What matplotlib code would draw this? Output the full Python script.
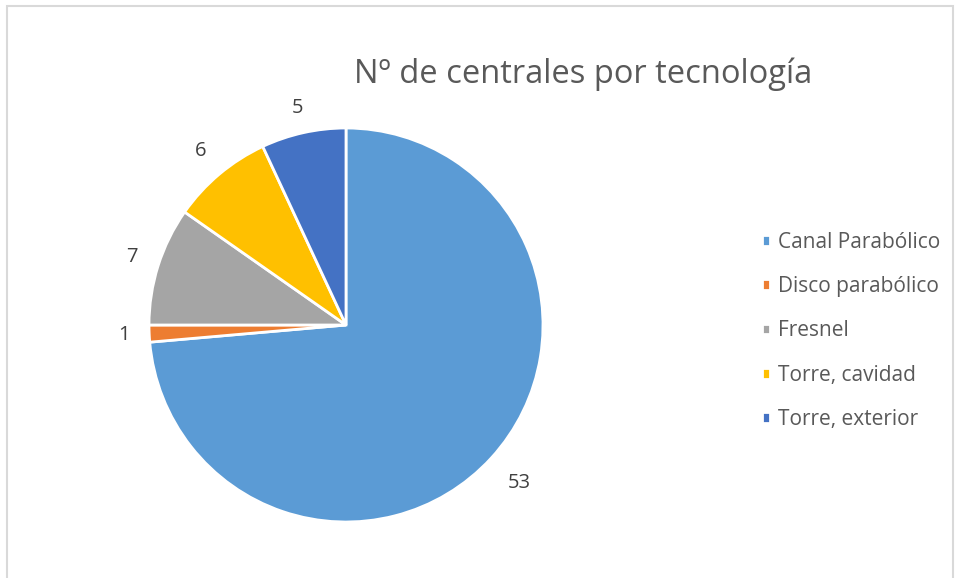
import numpy as np
import matplotlib
matplotlib.use("Agg")
import matplotlib.pyplot as plt
from matplotlib.patches import Rectangle

# datos
tecnologias = ["Canal Parabólico", "Disco parabólico", "Fresnel", "Torre, cavidad", "Torre, exterior"]
centrales = [53, 1, 7, 6, 5]
colores = ["#5B9BD5", "#ED7D31", "#A5A5A5", "#FFC000", "#4472C4"]
titulo = "Nº de centrales por tecnología"

plt.rcParams['font.family'] = ['Open Sans', 'DejaVu Sans']

fig = plt.figure(figsize=(9.6, 5.78), dpi=100)
W, H = 960, 578

# marco del gráfico
fig.patches.append(Rectangle((6.5 / W, -0.05), (953 - 6.5) / W, 1.05 - 6.5 / H,
                             transform=fig.transFigure, fill=False,
                             edgecolor="#D9D9D9", linewidth=1.5))

cx, cy, r = 346, 325, 197
ax = fig.add_axes([(cx - r) / W, (H - cy - r) / H, 2 * r / W, 2 * r / H])
wedges, _ = ax.pie(centrales, colors=colores, startangle=90, counterclock=False,
                   radius=1, wedgeprops=dict(edgecolor="white", linewidth=2))
ax.set_xlim(-1, 1)
ax.set_ylim(-1, 1)
ax.set_aspect("equal")
ax.axis("off")

# etiquetas de valores
distancias = [1.19, 1.13, 1.14, 1.15, 1.13]
for w, v, d in zip(wedges, centrales, distancias):
    ang = np.deg2rad((w.theta1 + w.theta2) / 2)
    ax.text(d * np.cos(ang), d * np.sin(ang), str(v), ha="center", va="center",
            fontsize=14.5, color="#404040")

fig.text(583 / W, 1 - 74 / H, titulo, ha="center", va="center",
         fontsize=23.5, color="#595959")

fig.legend(wedges, tecnologias, loc="upper left", bbox_to_anchor=(743 / W, 1 - 213 / H),
           frameon=False, fontsize=15, labelcolor="#595959",
           handlelength=0.4, handleheight=0.4, handletextpad=0.4, labelspacing=1.12)

fig.savefig("out.png", dpi=100, facecolor="white")
